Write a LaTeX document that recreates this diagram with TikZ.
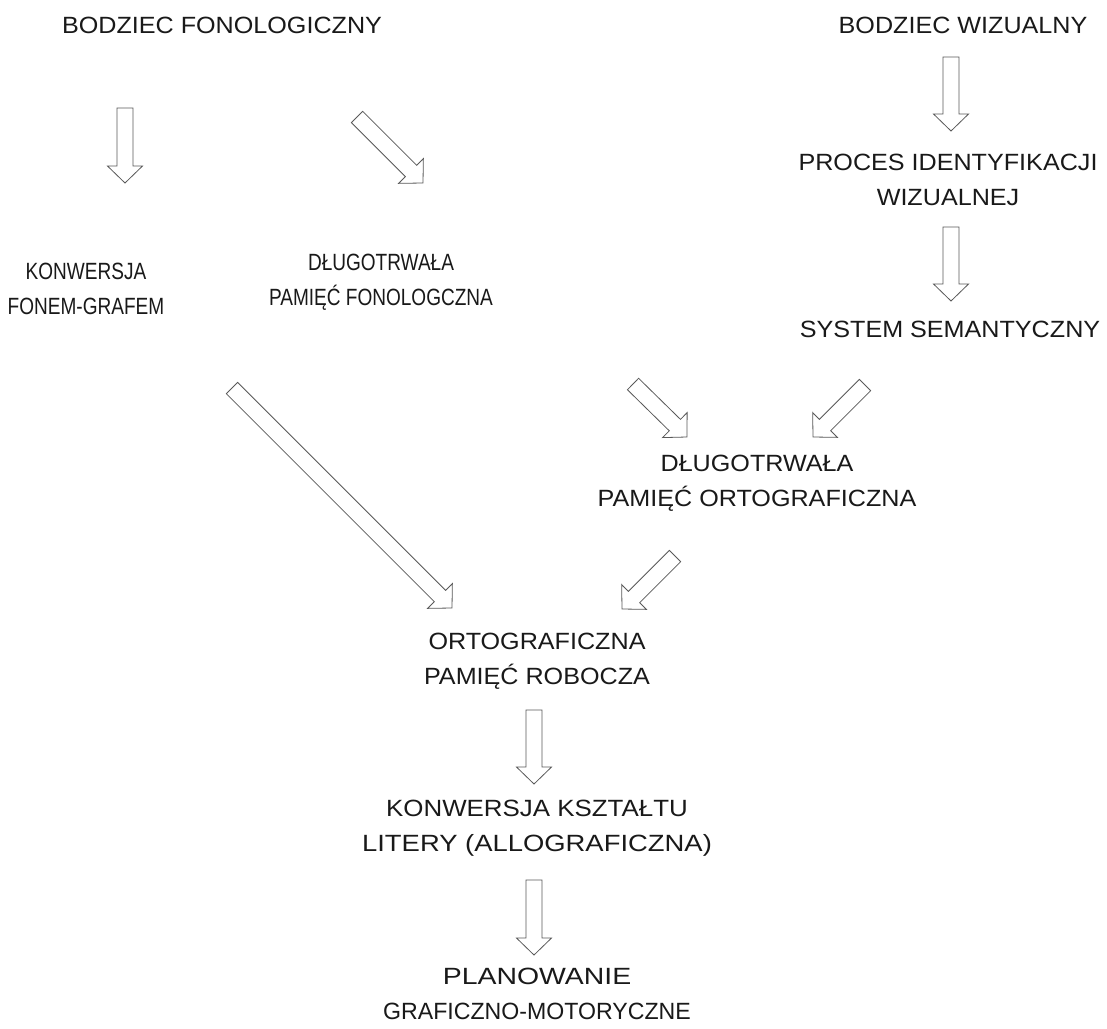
\documentclass[tikz,border=0pt]{standalone}
\usepackage{fontspec}
\usepackage{graphicx}
\setmainfont{Liberation Sans}[FakeStretch=1.07]
\newfontfamily\narrowfont{Liberation Sans}[FakeStretch=0.81]
\usetikzlibrary{calc}

% horizontal stretch of one text line
\newcommand\hstretch[2]{\scalebox{#1}[1]{#2}}

% hollow block arrow from #1 to #2 (tip at #2)
\newcommand\blockarrow[2]{%
  \coordinate (ba-h) at ($(#2)!17pt!(#1)$);
  \draw[blockarr]
    ($(#1)!8pt!90:(#2)$) -- ($(ba-h)!8pt!90:(#2)$) -- ($(ba-h)!17.5pt!90:(#2)$)
    -- (#2)
    -- ($(ba-h)!17.5pt!-90:(#2)$) -- ($(ba-h)!8pt!-90:(#2)$) -- ($(#1)!8pt!-90:(#2)$)
    -- cycle;
}

\begin{document}
\begin{tikzpicture}[x=1pt,y=-1pt,
  lbl/.style={inner sep=0pt, align=center, text=black!90,
    font=\fontsize{23.5}{35}\selectfont},
  narrow/.style={font=\narrowfont\fontsize{23.5}{35}\selectfont},
  blockarr/.style={draw=black!65, line width=0.8pt, fill=white, line join=miter}]
  \useasboundingbox[fill=white] (0,0) rectangle (1107,1028);

  % labels
  \node[lbl] (bf)  at (222,25)   {BODZIEC FONOLOGICZNY};
  \node[lbl] (bw)  at (963,25)   {BODZIEC WIZUALNY};
  \node[lbl] (piw) at (948,180)  {PROCES IDENTYFIKACJI\\WIZUALNEJ};
  \node[lbl] (ss)  at (950,329)  {SYSTEM SEMANTYCZNY};
  \node[lbl,narrow] (kfg) at (86,289)   {KONWERSJA\\FONEM-GRAFEM};
  \node[lbl,narrow] (dpf) at (381,282)  {DŁUGOTRWAŁA\\PAMIĘĆ FONOLOGCZNA};
  \node[lbl] (dpo) at (757,483)  {DŁUGOTRWAŁA\\PAMIĘĆ ORTOGRAFICZNA};
  \node[lbl] (opr) at (537,661)  {ORTOGRAFICZNA\\PAMIĘĆ ROBOCZA};
  \node[lbl] (kkl) at (537,828)  {\hstretch{1.03}{KONWERSJA KSZTAŁTU}\\\hstretch{1.09}{LITERY (ALLOGRAFICZNA)}};
  \node[lbl] (pgm) at (537,994)  {\hstretch{1.13}{PLANOWANIE}\\\hstretch{0.92}{GRAFICZNO-MOTORYCZNE}};

  % arrow end points between the labels
  \coordinate (bf-kfg-s) at (125,108);  \coordinate (bf-kfg-e) at (125,183);
  \coordinate (bf-dpf-s) at (357,117);  \coordinate (bf-dpf-e) at (423,183);
  \coordinate (bw-piw-s) at (951,57);   \coordinate (bw-piw-e) at (951,131);
  \coordinate (piw-ss-s) at (951,227);  \coordinate (piw-ss-e) at (951,301);
  \coordinate (kfg-opr-s) at (232,388); \coordinate (kfg-opr-e) at (452,608);
  \coordinate (dpf-dpo-s) at (633,384); \coordinate (dpf-dpo-e) at (687,437);
  \coordinate (ss-dpo-s) at (865,385);  \coordinate (ss-dpo-e) at (813,437);
  \coordinate (dpo-opr-s) at (675,556); \coordinate (dpo-opr-e) at (622,609);
  \coordinate (opr-kkl-s) at (534,710); \coordinate (opr-kkl-e) at (534,784);
  \coordinate (kkl-pgm-s) at (534,880); \coordinate (kkl-pgm-e) at (534,955);

  % arrows
  \blockarrow{bf-kfg-s}{bf-kfg-e}
  \blockarrow{bf-dpf-s}{bf-dpf-e}
  \blockarrow{bw-piw-s}{bw-piw-e}
  \blockarrow{piw-ss-s}{piw-ss-e}
  \blockarrow{kfg-opr-s}{kfg-opr-e}
  \blockarrow{dpf-dpo-s}{dpf-dpo-e}
  \blockarrow{ss-dpo-s}{ss-dpo-e}
  \blockarrow{dpo-opr-s}{dpo-opr-e}
  \blockarrow{opr-kkl-s}{opr-kkl-e}
  \blockarrow{kkl-pgm-s}{kkl-pgm-e}
\end{tikzpicture}
\end{document}
